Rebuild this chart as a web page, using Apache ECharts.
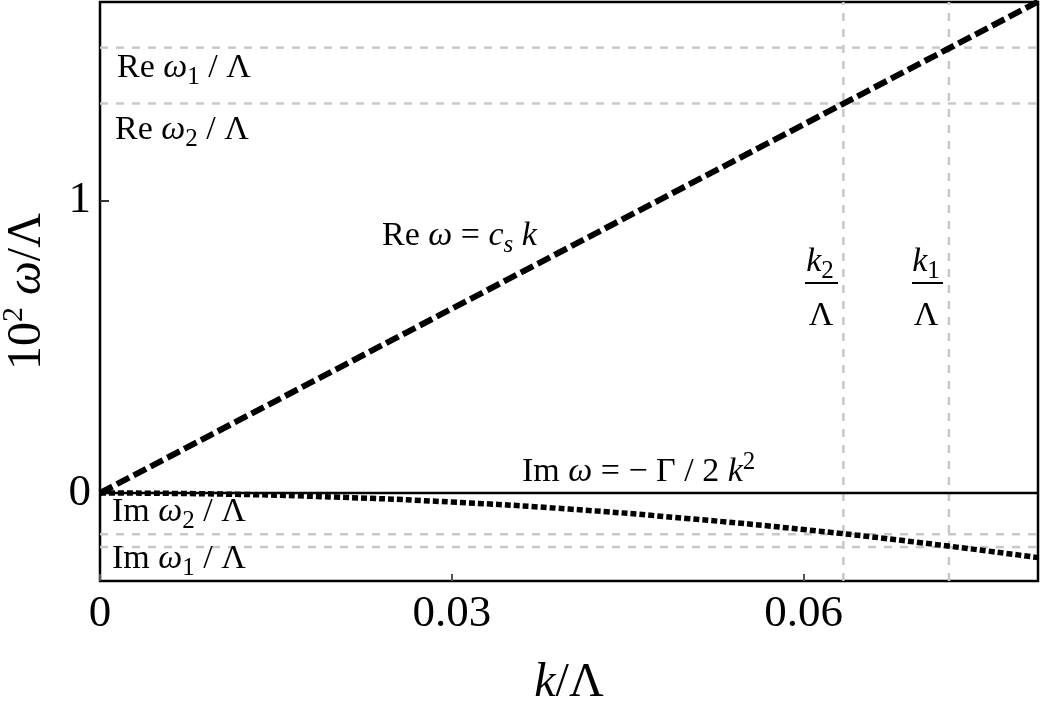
<!DOCTYPE html>
<html><head><meta charset="utf-8">
<script src="https://cdn.jsdelivr.net/npm/echarts@6/dist/echarts.min.js"></script>
<style>html,body{margin:0;padding:0;background:#fff}#c{width:1042px;height:715px}</style>
</head><body><div id="c"></div>
<script>
// ---- data ----
const kRe = [0, 0.08];
const reOmega = [0, 1.68];
const kIm = [0, 0.01, 0.02, 0.03, 0.04, 0.05, 0.06, 0.07, 0.08];
const imOmega = [0, -0.0035, -0.014, -0.031, -0.055, -0.087, -0.125, -0.17, -0.221];
const reLevels = [1.523, 1.332];   // Re ω1/Λ, Re ω2/Λ
const imLevels = [-0.141, -0.185]; // Im ω2/Λ, Im ω1/Λ
const kMarks = [0.0634, 0.0724];   // k2/Λ, k1/Λ
const xRange = [0, 0.08];
const yRange = [-0.301, 1.679];
const xTicks = [0, 0.03, 0.06];
const xTickLabels = ['0', '0.03', '0.06'];
const yTicks = [0, 1];
const yTickLabels = ['0', '1'];

const FF = '"Liberation Serif", "Times New Roman", serif';
const chart = echarts.init(document.getElementById('c'), null, {renderer: 'canvas'});

function richSet(main, sub, lh) {
  return {
    n: {fontSize: main, fontFamily: FF, lineHeight: lh, fill: '#000', color: '#000'},
    i: {fontSize: main, fontFamily: FF, fontStyle: 'italic', lineHeight: lh, fill: '#000', color: '#000'},
    sb: {fontSize: sub, fontFamily: FF, lineHeight: 24, verticalAlign: 'bottom', fill: '#000', color: '#000'},
    si: {fontSize: sub, fontFamily: FF, fontStyle: 'italic', lineHeight: 24, verticalAlign: 'bottom', fill: '#000', color: '#000'},
    sp: {fontSize: sub, fontFamily: FF, lineHeight: 24, verticalAlign: 'top', fill: '#000', color: '#000'}
  };
}
function txt(text, x, y, align) {
  return {
    type: 'text', x: x, y: y, z: 10, silent: true,
    style: {text: text, rich: richSet(34, 25, 44), fontSize: 34, fontFamily: FF, fill: '#000',
            align: align || 'left', verticalAlign: 'middle'}
  };
}
function bar(x1, x2, y) {
  return {type: 'line', z: 10, silent: true, shape: {x1: x1, y1: y, x2: x2, y2: y},
          style: {stroke: '#000', lineWidth: 2}};
}

const gray = {color: '#c8c8c8', width: 2.5, type: [8, 8]};
const refSeries = [];
reLevels.concat(imLevels).forEach(v => refSeries.push({
  type: 'line', silent: true, showSymbol: false, z: 1, lineStyle: gray,
  data: [[xRange[0], v], [xRange[1], v]]
}));
kMarks.forEach(k => refSeries.push({
  type: 'line', silent: true, showSymbol: false, z: 1, lineStyle: gray,
  data: [[k, yRange[0]], [k, yRange[1]]]
}));

chart.setOption({
  animation: false,
  backgroundColor: '#fff',
  grid: {left: 100, right: 4, top: 2, bottom: 134, show: true, borderColor: '#000', borderWidth: 2.5,
         backgroundColor: 'transparent', containLabel: false, outerBoundsMode: 'none'},
  xAxis: {
    type: 'value', min: xRange[0], max: xRange[1],
    axisLine: {show: false, onZero: false},
    splitLine: {show: false},
    axisTick: {show: true, inside: true, length: 7, lineStyle: {color: '#555', width: 2}, customValues: xTicks},
    axisLabel: {customValues: xTicks, margin: 11, fontSize: 45, fontFamily: FF, color: '#000',
                formatter: v => xTickLabels[xTicks.indexOf(v)] ?? ''},
    name: '{i|k}{n|/Λ}', nameLocation: 'middle', nameGap: 74,
    nameTextStyle: {fontSize: 48, fontFamily: FF, color: '#000', rich: richSet(48, 30, 56)}
  },
  yAxis: {
    type: 'value', min: yRange[0], max: yRange[1],
    axisLine: {show: false, onZero: false},
    splitLine: {show: false},
    axisTick: {show: true, inside: true, length: 9, lineStyle: {color: '#333', width: 2}, customValues: yTicks},
    axisLabel: {customValues: yTicks, margin: 9, fontSize: 45, fontFamily: FF, color: '#000',
                formatter: v => yTickLabels[yTicks.indexOf(v)] ?? ''},
    name: '{n|10}{sp|2}{n| }{i|ω}{n|/Λ}', nameLocation: 'middle', nameGap: 45, nameRotate: 90,
    nameTextStyle: {fontSize: 48, fontFamily: FF, color: '#000', rich: richSet(48, 30, 56)}
  },
  series: refSeries.concat([
    {
      type: 'line', name: 'zero', silent: true, showSymbol: false, z: 3,
      data: [[xRange[0], 0], [xRange[1], 0]],
      lineStyle: {color: '#000', width: 2.5, type: 'solid'}
    },
    {
      type: 'line', name: 'Re', showSymbol: false, z: 4,
      data: kRe.map((k, i) => [k, reOmega[i]]),
      lineStyle: {color: '#000', width: 6, type: [14, 5]}
    },
    {
      type: 'line', name: 'Im', showSymbol: false, z: 4, smooth: true,
      data: kIm.map((k, i) => [k, imOmega[i]]),
      lineStyle: {color: '#000', width: 5.5, type: [6, 3]}
    }
  ]),
  graphic: [
    txt('{n|Re }{i|ω}{sb|1}{n| / Λ}', 117, 68),
    txt('{n|Re }{i|ω}{sb|2}{n| / Λ}', 115, 130),
    txt('{n|Re }{i|ω}{n| = }{i|c}{si|s}{n| }{i|k}', 382, 236),
    txt('{n|Im }{i|ω}{n| = − Γ / 2 }{i|k}{sp|2}', 522, 472),
    txt('{n|Im }{i|ω}{sb|2}{n| / Λ}', 112, 512),
    txt('{n|Im }{i|ω}{sb|1}{n| / Λ}', 112, 559),
    txt('{i|k}{sb|2}', 820, 262, 'center'),
    bar(805, 838, 283),
    txt('{n|Λ}', 821, 316, 'center'),
    txt('{i|k}{sb|1}', 926, 262, 'center'),
    bar(912, 943, 283),
    txt('{n|Λ}', 926, 316, 'center')
  ]
});
</script></body></html>
